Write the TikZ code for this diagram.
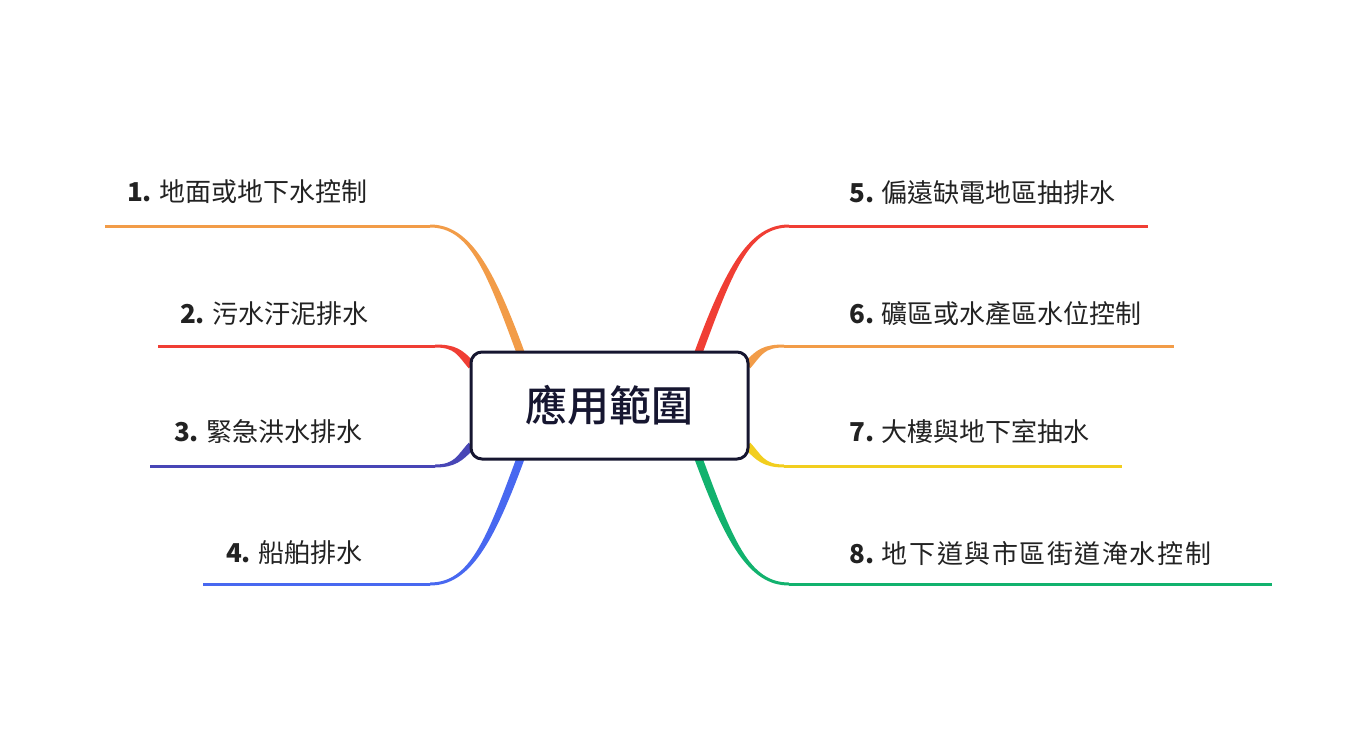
\documentclass[tikz,border=0pt]{standalone}
\usepackage{fontspec}
\setmainfont{Noto Sans CJK TC}
\newfontfamily\hubfont{Noto Sans CJK TC Medium}
\usetikzlibrary{calc}
\definecolor{corange}{RGB}{242,156,72}
\definecolor{cred}{RGB}{240,62,52}
\definecolor{cindigo}{RGB}{72,70,182}
\definecolor{cblue}{RGB}{72,104,240}
\definecolor{cyellow}{RGB}{242,206,30}
\definecolor{cgreen}{RGB}{18,178,110}
\definecolor{cnavy}{RGB}{22,22,48}
\definecolor{ctext}{RGB}{34,34,34}
\pgfdeclarelayer{bg}
\pgfsetlayers{bg,main}
\tikzset{
  hub/.style={draw=cnavy, fill=white, line width=3pt, rounded corners=11pt,
    minimum width=277pt, minimum height=107pt, inner sep=0pt,
    font=\fontsize{42}{48}\selectfont\hubfont, text=cnavy},
  lbl/.style={inner sep=0pt, font=\fontsize{26}{31}\selectfont, text=ctext},
  stem/.style={line width=3pt},
}
% #1 colour, #2 start, #3 c1, #4 c2, #5 end, #6 start offset
\newcommand\mmbranch[6]{%
  \fill[#1] ($(#2)+(#6)$) .. controls ($(#3)+(#6)$) and ($(#4)+(0,-1.5)$) .. ($(#5)+(0,-1.5)$)
    -- ($(#5)+(0,1.5)$) .. controls ($(#4)+(0,1.5)$) and ($(#3)-(#6)$) .. ($(#2)-(#6)$) -- cycle;}
\begin{document}
\begin{tikzpicture}[x=1pt,y=-1pt]
\useasboundingbox (0,0) rectangle (1370,755);
\node[hub] (c) at (609.5,405.5) {應用範圍};

% labels
\node[lbl, anchor=east] (l1) at (368,192) {\textbf{1.} 地面或地下水控制};
\node[lbl, anchor=east] (l2) at (369,314) {\textbf{2.} 污水汙泥排水};
\node[lbl, anchor=east] (l3) at (363,432) {\textbf{3.} 緊急洪水排水};
\node[lbl, anchor=east] (l4) at (363,553) {\textbf{4.} 船舶排水};
\node[lbl, anchor=west] (l5) at (849,193) {\textbf{5.} 偏遠缺電地區抽排水};
\node[lbl, anchor=west] (l6) at (849,314) {\textbf{6.} 礦區或水產區水位控制};
\node[lbl, anchor=west] (l7) at (849,432) {\textbf{7.} 大樓與地下室抽水};
\node[lbl, anchor=west] (l8) at (849,554) {\textbf{8.} \addfontfeature{LetterSpace=6}地下道與市區街道淹水控制};

% branch points
\coordinate (s1) at ($(c.north west)+(51,2)$);
\coordinate (s2) at ($(c.west)+(2,-40)$);
\coordinate (s3) at ($(c.west)+(2,40)$);
\coordinate (s4) at ($(c.south west)+(51,-2)$);
\coordinate (s5) at ($(c.north east)+(-51,2)$);
\coordinate (s6) at ($(c.east)+(-2,-40)$);
\coordinate (s7) at ($(c.east)+(-2,40)$);
\coordinate (s8) at ($(c.south east)+(-51,-2)$);

\coordinate (e1) at (430,226); \coordinate (f1) at (105,226);
\coordinate (e2) at (435,346); \coordinate (f2) at (158,346);
\coordinate (e3) at (435,466); \coordinate (f3) at (150,466);
\coordinate (e4) at (430,584); \coordinate (f4) at (203,584);
\coordinate (e5) at (789,226); \coordinate (f5) at (1148,226);
\coordinate (e6) at (784,346); \coordinate (f6) at (1174,346);
\coordinate (e7) at (784,466); \coordinate (f7) at (1122,466);
\coordinate (e8) at (789,584); \coordinate (f8) at (1272,584);

\begin{pgfonlayer}{bg}
\mmbranch{corange}{s1}{490,270}{470,226}{e1}{3.7,-1.5}
\draw[stem,corange] (e1) -- (f1);
\mmbranch{cred}{s2}{460,352}{455,346}{e2}{2.8,-2.8}
\draw[stem,cred] (e2) -- (f2);
\mmbranch{cindigo}{s3}{460,458}{455,466}{e3}{-2.8,-2.8}
\draw[stem,cindigo] (e3) -- (f3);
\mmbranch{cblue}{s4}{490,541}{470,584}{e4}{-3.7,-1.5}
\draw[stem,cblue] (e4) -- (f4);
\mmbranch{cred}{s5}{729,270}{749,226}{e5}{-3.7,-1.5}
\draw[stem,cred] (e5) -- (f5);
\mmbranch{corange}{s6}{759,352}{764,346}{e6}{-2.8,-2.8}
\draw[stem,corange] (e6) -- (f6);
\mmbranch{cyellow}{s7}{759,458}{764,466}{e7}{2.8,-2.8}
\draw[stem,cyellow] (e7) -- (f7);
\mmbranch{cgreen}{s8}{729,541}{749,584}{e8}{3.7,-1.5}
\draw[stem,cgreen] (e8) -- (f8);
\end{pgfonlayer}
\end{tikzpicture}
\end{document}
